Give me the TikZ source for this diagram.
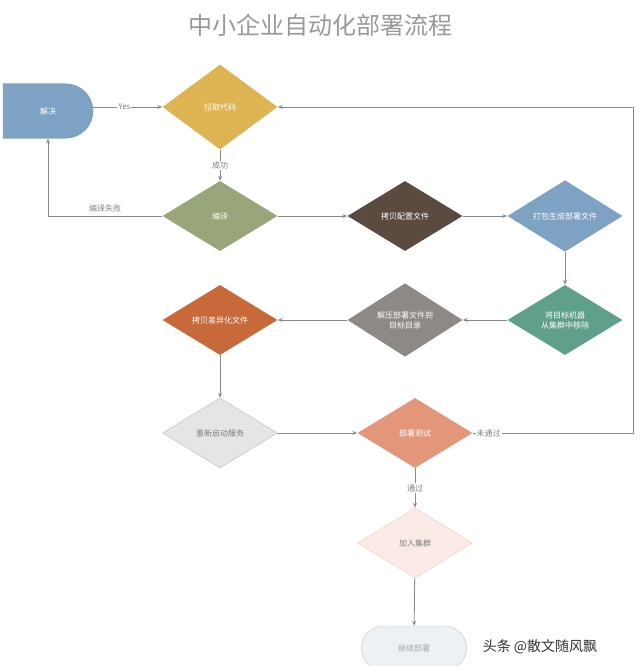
\documentclass[tikz,border=0pt]{standalone}
\usepackage{fontspec}
\setmainfont{Noto Sans CJK SC}
\usetikzlibrary{shapes.geometric,shapes.misc,arrows.meta}
\definecolor{c-pull}{HTML}{DDB451}
\definecolor{c-comp}{HTML}{98A67A}
\definecolor{c-copy}{HTML}{5A4A40}
\definecolor{c-pack}{HTML}{7EA2C4}
\definecolor{c-rm}{HTML}{5F9F8C}
\definecolor{c-unz}{HTML}{8E8886}
\definecolor{c-diff}{HTML}{C8693A}
\definecolor{c-rst}{HTML}{E6E4E4}
\definecolor{c-test}{HTML}{E4967A}
\definecolor{c-join}{HTML}{FBEBE6}
\definecolor{c-go}{HTML}{EEF1F4}
\definecolor{c-line}{HTML}{8A8A8A}
\tikzset{
  stage/.style={diamond, draw=none, inner sep=0pt, minimum width=115pt,
    minimum height=70pt, text=white, font=\fontsize{8}{10}\selectfont, align=center},
  flow/.style={draw=c-line, line width=0.8pt, -{Stealth[length=5pt,width=4pt]}},
  lbl/.style={text=gray, font=\fontsize{8}{10}\selectfont}
}
\begin{document}
\begin{tikzpicture}[x=1pt, y=-1pt]
    \useasboundingbox (0,0) rectangle (640,666);
    \node[text=gray!80, font=\fontsize{24}{28}\selectfont] (title) at (320,25) {中小企业自动化部署流程};
    % first row
    \node[rounded rectangle, rounded rectangle left arc=none, fill=c-pack, minimum width=97pt,
      minimum height=55pt, text=white, font=\fontsize{8}{10}\selectfont] (fix) at (48,111) {解决};
    \node[stage, fill=c-pull, minimum height=85pt] (pull) at (220,107) {拉取代码};
    \node[stage, fill=c-comp] (comp) at (220,216) {编译};
    \node[stage, fill=c-copy] (conf) at (405,216) {拷贝配置文件};
    \node[stage, fill=c-pack] (pack) at (565,216) {打包生成部署文件};
    % second row
    \node[stage, fill=c-rm] (rm) at (565,320) {将目标机器\\从集群中移除};
    \node[stage, fill=c-unz] (unz) at (405,320) {解压部署文件到\\目标目录};
    \node[stage, fill=c-diff] (diff) at (220,320) {拷贝差异化文件};
    % test part
    \node[stage, fill=c-rst, draw=c-line!60, text=gray] (rst) at (220,433) {重新启动服务};
    \node[stage, fill=c-test] (test) at (415,433) {部署测试};
    \node[stage, fill=c-join, draw=c-test!50, text=gray] (join) at (415,543) {加入集群};
    \node[rounded rectangle, fill=c-go, draw=c-line!50, minimum width=112pt, minimum height=44pt,
      text=gray!70, font=\fontsize{8}{10}\selectfont] (go) at (414,648) {继续部署};
    \coordinate (failc) at (48,216);
    \coordinate (backa) at (633,433);
    \coordinate (backb) at (633,107);
    % connectors
    \draw[flow] (fix.east |- pull) -- node[lbl, fill=white, inner sep=1pt, pos=0.45] {Yes} (pull);
    \draw[flow] (pull) -- node[lbl, fill=white, inner sep=1pt] {成功} (comp);
    \draw[flow] (comp.west) -- node[lbl, above] {编译失败} (failc) -- (fix.south -| failc);
    \draw[flow] (comp) -- (conf);
    \draw[flow] (conf) -- (pack);
    \draw[flow] (pack) -- (rm);
    \draw[flow] (rm) -- (unz);
    \draw[flow] (unz) -- (diff);
    \draw[flow] (diff) -- (rst);
    \draw[flow] (rst) -- (test);
    \draw[flow] (test.east) -- node[lbl, pos=0.1, fill=white, inner sep=1pt] {未通过} (backa) -- (backb) -- (pull.east);
    \draw[flow] (test) -- node[lbl, fill=white, inner sep=1pt] {通过} (join);
    \draw[flow] (join) -- (go);
    \node[text=black!80, font=\fontsize{14}{16}\selectfont] (mark) at (540,647) {头条 @散文随风飘};
\end{tikzpicture}
\end{document}
